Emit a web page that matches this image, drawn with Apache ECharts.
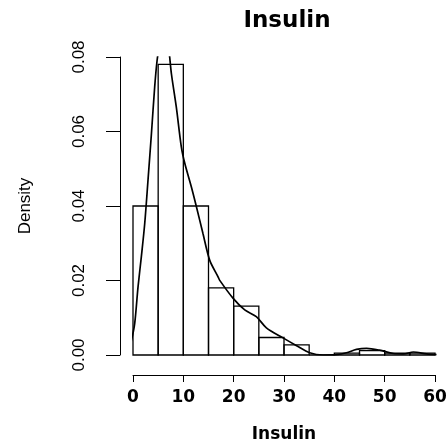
<!DOCTYPE html>
<html>
<head>
<meta charset="utf-8">
<script src="https://cdn.jsdelivr.net/npm/echarts@6/dist/echarts.min.js"></script>
<style>html,body{margin:0;padding:0;background:#fff;}#c{width:448px;height:442px;}</style>
</head>
<body>
<div id="c"></div>
<script>
// Histogram bins (Insulin) and densities
const binStarts = [0, 5, 10, 15, 20, 25, 30, 35, 40, 45, 50, 55];
const binEnds   = [5, 10, 15, 20, 25, 30, 35, 40, 45, 50, 55, 60];
const densities = [0.040, 0.078, 0.040, 0.018, 0.0131, 0.0047, 0.0027, 0, 0.0005, 0.0012, 0.0005, 0.0005];

// Kernel density curve
const curveX = [-2.6, -1.5, -0.8, -0.3, 0.34, 1.0, 1.66, 2.33, 2.98, 3.66, 4.31, 4.78, 5.2, 5.7, 6.2, 6.8, 7.2, 7.63, 8.6, 9.6, 10.3, 11.6, 12.6, 13.9, 15.25, 16.9, 17.2, 19.9, 22.2, 24.5, 26.5, 29.8, 32.5, 35.1, 37.8, 40.4, 42.4, 44.4, 46.4, 49.0, 51.7, 53.7, 55.7, 58.3, 60.3];
const curveY = [0, 0.0005, 0.0018, 0.004, 0.0085, 0.0183, 0.0264, 0.0353, 0.0469, 0.0594, 0.072, 0.079, 0.0825, 0.085, 0.0856, 0.084, 0.081, 0.0755, 0.0666, 0.0559, 0.0514, 0.0451, 0.0398, 0.0326, 0.0254, 0.021, 0.0201, 0.0152, 0.0121, 0.0103, 0.0073, 0.0046, 0.0025, 0.0006, 0, 0.0001, 0.0006, 0.0015, 0.0018, 0.0013, 0.0004, 0.0003, 0.0008, 0.0003, 0.0001];

const xTicks = [0, 10, 20, 30, 40, 50, 60];
const yTicks = [0, 0.02, 0.04, 0.06, 0.08];

const histData = binStarts.map((s, i) => [s, binEnds[i], densities[i]]);
const curveData = curveX.map((x, i) => [x, curveY[i]]);

const chart = echarts.init(document.getElementById('c'), null, {renderer: 'canvas'});
chart.setOption({
  animation: false,
  backgroundColor: '#ffffff',
  title: {
    text: 'Insulin',
    left: 282,
    textAlign: 'center',
    top: 5,
    textStyle: {fontFamily: 'DejaVu Sans', fontWeight: 'bold', fontSize: 23, color: '#000'}
  },
  grid: {left: 133, right: 13, top: 57, bottom: 87, containLabel: false, outerBoundsMode: 'none'},
  xAxis: {
    type: 'value',
    min: xTicks[0], max: xTicks[xTicks.length - 1], interval: 10,
    offset: 20,
    name: 'Insulin', nameLocation: 'middle', nameGap: 51,
    nameTextStyle: {fontFamily: 'DejaVu Sans', fontWeight: 'bold', fontSize: 17, color: '#000'},
    axisLine: {show: true, onZero: false, lineStyle: {color: '#000', width: 1}},
    axisTick: {show: true, length: 7, lineStyle: {color: '#000', width: 1}},
    axisLabel: {margin: 14, fontFamily: 'DejaVu Sans', fontWeight: 'bold', fontSize: 17, color: '#000'},
    splitLine: {show: false}
  },
  yAxis: {
    type: 'value',
    min: yTicks[0], max: yTicks[yTicks.length - 1], interval: 0.02,
    offset: 13,
    name: 'Density', nameLocation: 'middle', nameGap: 86, nameRotate: 90,
    nameTextStyle: {fontFamily: 'Liberation Sans', fontSize: 17, color: '#000'},
    axisLine: {show: true, onZero: false, lineStyle: {color: '#000', width: 1}},
    axisTick: {show: true, length: 14, lineStyle: {color: '#000', width: 1}},
    axisLabel: {rotate: 90, margin: 32, fontFamily: 'Liberation Sans', fontSize: 17, color: '#000',
      formatter: v => v.toFixed(2)},
    splitLine: {show: false}
  },
  series: [
    {
      type: 'custom',
      data: histData,
      encode: {x: [0, 1], y: 2},
      renderItem: function (params, api) {
        const p0 = api.coord([api.value(0), api.value(2)]);
        const p1 = api.coord([api.value(1), 0]);
        return {
          type: 'rect',
          shape: {x: p0[0], y: p0[1], width: p1[0] - p0[0], height: p1[1] - p0[1]},
          style: {fill: 'rgba(0,0,0,0)', stroke: '#000', lineWidth: 1.3}
        };
      }
    },
    {
      type: 'line',
      data: curveData,
      showSymbol: false,
      smooth: 0.3,
      clip: true,
      lineStyle: {color: '#000', width: 1.7},
      z: 3
    }
  ]
});
</script>
</body>
</html>
